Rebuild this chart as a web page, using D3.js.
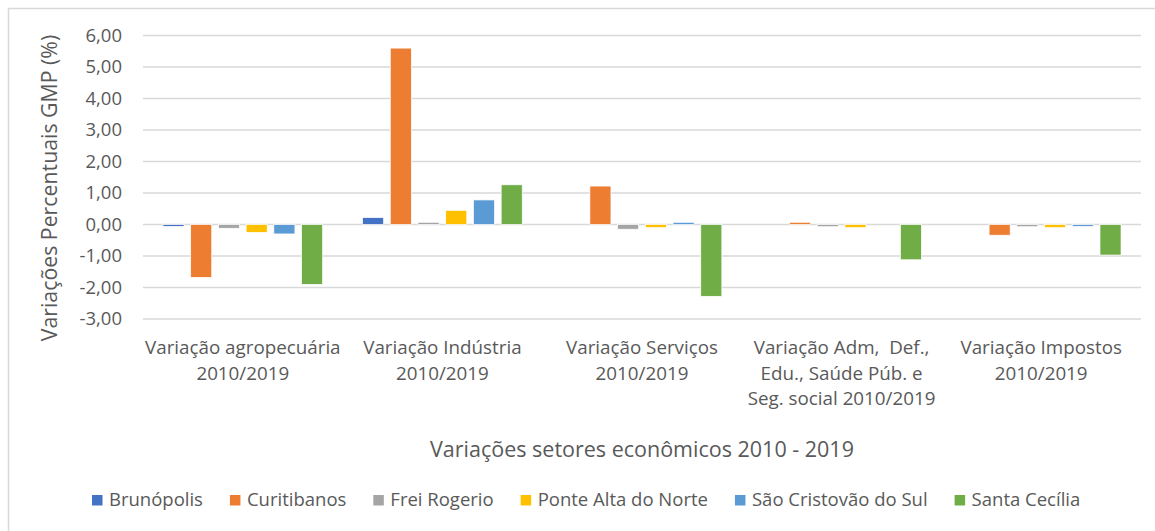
<!DOCTYPE html>
<html>
<head>
<meta charset="utf-8">
<script src="https://cdn.jsdelivr.net/npm/d3@7"></script>
<style>
    body { margin: 0; background: #fff; }
    svg text { font-family: "Open Sans", "Noto Sans", sans-serif; fill: #595959; white-space: pre; }
</style>
</head>
<body>
<div id="chart"></div>
<script>
// categories (x axis), split in lines as on the chart
const categories = [
    ["Variação agropecuária", "2010/2019"],
    ["Variação Indústria", "2010/2019"],
    ["Variação Serviços", "2010/2019"],
    ["Variação Adm,  Def.,", "Edu., Saúde Púb. e", "Seg. social 2010/2019"],
    ["Variação Impostos", "2010/2019"]
];
const municipios = ["Brunópolis", "Curitibanos", "Frei Rogerio", "Ponte Alta do Norte", "São Cristovão do Sul", "Santa Cecília"];
const colors = ["#4472C4", "#ED7D31", "#A5A5A5", "#FFC000", "#5B9BD5", "#70AD47"];

// values per municipio, one entry per category
const brunopolis   = [-0.06, 0.22, 0.00, 0.00, 0.00];
const curitibanos  = [-1.68, 5.60, 1.22, 0.07, -0.34];
const freiRogerio  = [-0.12, 0.07, -0.15, -0.07, -0.07];
const ponteAlta    = [-0.25, 0.45, -0.10, -0.10, -0.10];
const saoCristovao = [-0.30, 0.78, 0.07, 0.00, -0.06];
const santaCecilia = [-1.90, 1.26, -2.28, -1.12, -0.97];
const series = [brunopolis, curitibanos, freiRogerio, ponteAlta, saoCristovao, santaCecilia];

const yTicks = [-3, -2, -1, 0, 1, 2, 3, 4, 5, 6];
const yTitle = "Variações Percentuais GMP (%)";
const xTitle = "Variações setores econômicos 2010 - 2019";

const width = 1155, height = 531;
const margin = { top: 35.5, right: 14, bottom: 212, left: 143 };

const svg = d3.select("#chart")
    .append("svg")
    .attr("width", width)
    .attr("height", height);

// chart frame, cut on the right and bottom like the picture
svg.append("rect")
    .attr("x", 8.5).attr("y", 8.5)
    .attr("width", width + 20).attr("height", height + 20)
    .style("fill", "none")
    .style("stroke", "#d9d9d9")
    .style("stroke-width", 1.5);

const x0 = d3.scaleBand()
    .domain(d3.range(categories.length))
    .range([margin.left, width - margin.right])
    .paddingInner(0.2)
    .paddingOuter(0.1);

const x1 = d3.scaleBand()
    .domain(d3.range(municipios.length))
    .range([0, x0.bandwidth()])
    .paddingInner(0.24);

const y = d3.scaleLinear()
    .domain([-3, 6])
    .range([height - margin.bottom, margin.top]);

// gridlines
svg.append("g")
    .selectAll("line")
    .data(yTicks)
    .join("line")
    .attr("x1", margin.left)
    .attr("x2", width - margin.right)
    .attr("y1", d => y(d))
    .attr("y2", d => y(d))
    .style("stroke", "#d9d9d9")
    .style("stroke-width", 1.5);

// y axis labels
let yAxis = d3.axisLeft(y)
    .tickValues(yTicks)
    .tickSize(0)
    .tickPadding(21)
    .tickFormat(d => d3.format(".2f")(d).replace(".", ",").replace("−", "-"));

svg.append("g")
    .attr("transform", `translate(${margin.left}, 0)`)
    .call(yAxis)
    .call(g => g.select(".domain").remove())
    .selectAll("text")
    .style("font-size", "18.5px")
    .style("font-family", "'Open Sans', sans-serif")
    .style("fill", "#595959");

// bars
let groups = svg.append("g")
    .selectAll("g")
    .data(series)
    .join("g")
    .style("fill", (d, i) => colors[i]);

groups.each(function(vals, si) {
    d3.select(this).selectAll("rect")
        .data(vals)
        .join("rect")
        .attr("x", (d, ci) => x0(ci) + x1(si))
        .attr("width", x1.bandwidth())
        .attr("y", d => y(Math.max(0, d)))
        .attr("height", d => Math.abs(y(d) - y(0)))
        .style("stroke", "#fff")
        .style("stroke-width", 0.7);
});

// category labels
let catLabels = svg.append("g")
    .selectAll("text")
    .data(categories)
    .join("text")
    .attr("x", (d, i) => x0(i) + x0.bandwidth() / 2)
    .attr("y", 354)
    .attr("text-anchor", "middle")
    .style("font-size", "18.8px");

catLabels.selectAll("tspan")
    .data(d => d)
    .join("tspan")
    .attr("x", function() { return d3.select(this.parentNode).attr("x"); })
    .attr("dy", (d, i) => i == 0 ? 0 : 25.5)
    .text(d => d);

// axis titles
svg.append("text")
    .attr("x", (margin.left + width - margin.right) / 2)
    .attr("y", 457)
    .attr("text-anchor", "middle")
    .style("font-size", "21.5px")
    .text(xTitle);

svg.append("text")
    .attr("transform", "translate(57, 188) rotate(-90)")
    .attr("text-anchor", "middle")
    .style("font-size", "21.3px")
    .text(yTitle);

// legend
let legend = svg.append("g")
    .attr("transform", "translate(92, 500)");

let lx = 0;
municipios.forEach(function(name, i) {
    let item = legend.append("g")
        .attr("transform", `translate(${lx}, 0)`);
    item.append("rect")
        .attr("x", 0)
        .attr("y", -5)
        .attr("width", 10.5)
        .attr("height", 10.5)
        .style("fill", colors[i]);
    let t = item.append("text")
        .attr("x", 17)
        .attr("y", 0)
        .attr("dy", "0.35em")
        .style("font-size", "18.5px")
        .text(name);
    lx += 17 + t.node().getComputedTextLength() + 27;
});
</script>
</body>
</html>
